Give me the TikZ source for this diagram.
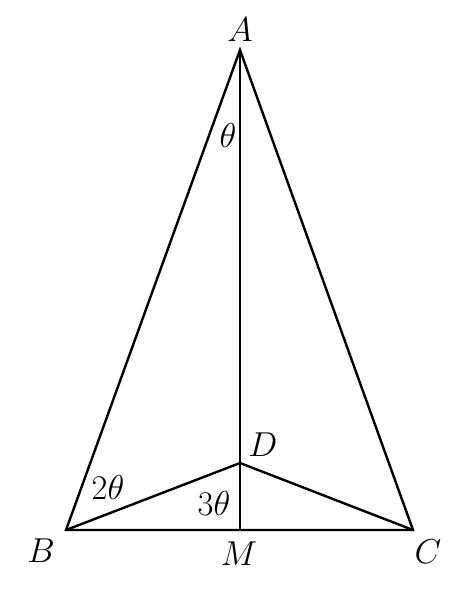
\documentclass[tikz,border=0pt]{standalone}
\usepackage{amsmath}
\usepackage{tikz}

\begin{document}
\begin{tikzpicture}[x=0.5pt,y=-0.5pt,
    edge/.style={line width=1.2pt},
    lbl/.style={font=\LARGE,inner sep=1pt}]
    \useasboundingbox (0,0) rectangle (473,590);

    \coordinate (A) at (240,50);
    \coordinate (B) at (66,530);
    \coordinate (C) at (413,530);
    \coordinate (M) at (240,530);
    \coordinate (D) at (240,463);

    \draw[edge] (A) -- (B) -- (C) -- cycle;
    \draw[edge] (A) -- (M);
    \draw[edge] (B) -- (D) -- (C);

    \node[lbl] (A-label) at (240,30) {$A$};
    \node[lbl] (B-label) at (41,551) {$B$};
    \node[lbl] (M-label) at (239,554) {$M$};
    \node[lbl] (C-label) at (428,552) {$C$};
    \node[lbl] (D-label) at (263,445) {$D$};

    \node[lbl] (theta) at (228,135) {$\theta$};
    \node[lbl] (two-theta) at (108,487) {$2\theta$};
    \node[lbl] (three-theta) at (214,503) {$3\theta$};

  \end{tikzpicture}
\end{document}
